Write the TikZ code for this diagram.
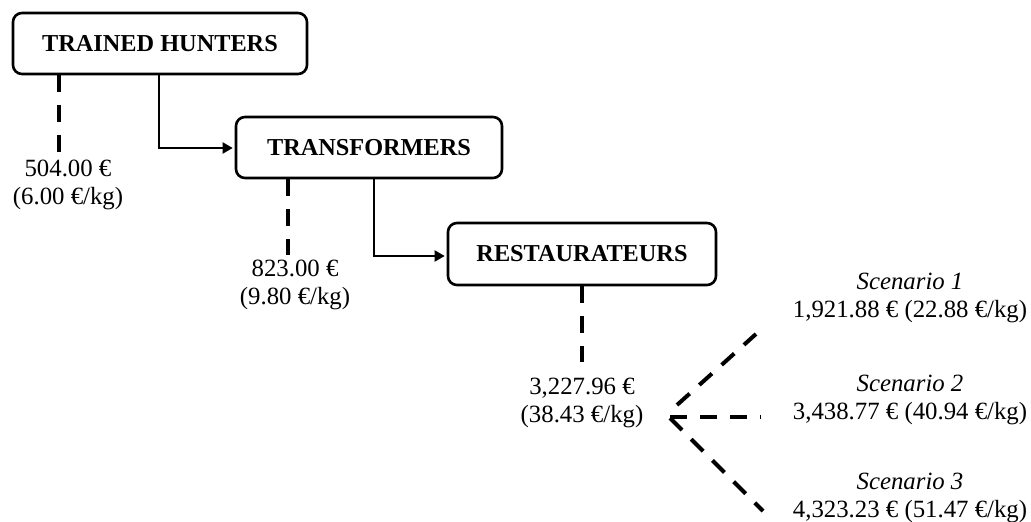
\documentclass[tikz,border=0pt]{standalone}
\usepackage{fontspec}
\setmainfont{Liberation Serif}
\usetikzlibrary{arrows.meta,calc}
\begin{document}
\begin{tikzpicture}[x=1pt,y=-1pt,
  box/.style={draw,line width=2.6pt,rounded corners=9pt,inner sep=0pt,font=\fontsize{24.3}{28}\selectfont\bfseries},
  val/.style={align=center,inner sep=0pt,font=\fontsize{24.8}{28}\selectfont},
  flow/.style={line width=2pt,shorten >=2pt,-{Triangle[length=10pt,width=11pt]}},
  dashline/.style={line width=4pt,dash pattern=on 17pt off 13pt}]
\fill[white] (0,0) rectangle (1031,522);
\useasboundingbox (0,0) rectangle (1031,522);
\node[box,minimum width=294pt,minimum height=61pt] (th) at (160,43.5) {TRAINED HUNTERS};
\node[box,minimum width=266pt,minimum height=61pt] (tr) at (369,147.5) {TRANSFORMERS};
\node[box,minimum width=268pt,minimum height=62pt] (re) at (582,254) {RESTAURATEURS};
\node[val] (t1) at (68,185) {504.00 €\\(6.00 €/kg)};
\node[val] (t2) at (295,285) {823.00 €\\(9.80 €/kg)};
\node[val] (t3) at (582,403) {3,227.96 €\\(38.43 €/kg)};
\node[val] (s1) at (910,298) {\textit{Scenario 1}\\1,921.88 € (22.88 €/kg)};
\node[val] (s2) at (910,400) {\textit{Scenario 2}\\3,438.77 € (40.94 €/kg)};
\node[val] (s3) at (910,498) {\textit{Scenario 3}\\4,323.23 € (51.47 €/kg)};
\coordinate (a1) at (159,0);
\coordinate (a2) at (374,0);
\draw[flow] (th.south -| a1) |- (tr.west |- 0,148);
\draw[flow] (tr.south -| a2) |- (re.west |- 0,256);
\coordinate (d1) at (59,0);
\coordinate (d2) at (288,0);
\coordinate (d3) at (582,0);
\draw[dashline] (th.south -| d1) -- (d1 |- 0,155);
\draw[dashline] (tr.south -| d2) -- (d2 |- 0,255);
\draw[dashline] (re.south -| d3) -- (d3 |- 0,362);
\coordinate (f1) at (677,405);
\coordinate (f2) at (670,417);
\coordinate (f3) at (670,418);
\coordinate (e1) at (756,334);
\coordinate (e2) at (761,417);
\coordinate (e3) at (763,511);
\draw[dashline] (f1) -- (e1);
\draw[dashline] (f2) -- (e2);
\draw[dashline] (f3) -- (e3);
\end{tikzpicture}
\end{document}
